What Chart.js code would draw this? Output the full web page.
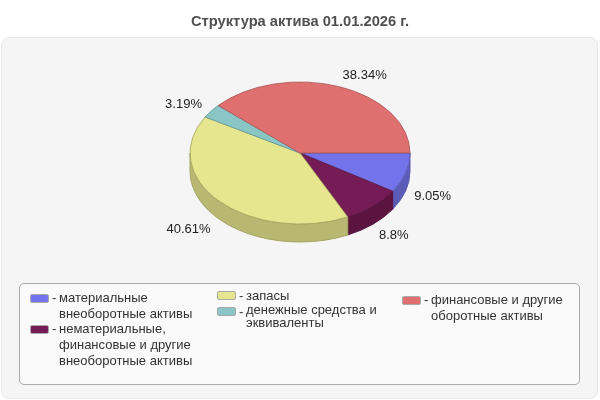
<!DOCTYPE html>
<html>
<head>
<meta charset="utf-8">
<script src="https://cdn.jsdelivr.net/npm/chart.js@4"></script>
<style>
html, body { margin: 0; padding: 0; background: #fff; }
#wrap { position: relative; width: 600px; height: 400px; overflow: hidden; font-family: "Liberation Sans", Arial, sans-serif; }
#panel { position: absolute; left: 1px; top: 37px; width: 595px; height: 360px; background: #f5f5f5; border: 1px solid #e8e8e8; border-radius: 8px; }
#legendBox { position: absolute; left: 19px; top: 283px; width: 559px; height: 100px; background: #fafafa; border: 1px solid #aaa; border-radius: 5px; }
canvas { position: absolute; left: 0; top: 0; }
.item { position: absolute; font-size: 13px; color: #333; white-space: nowrap; }
.swatch { position: absolute; left: 0; width: 17px; height: 7px; border: 1px solid #aaa; border-radius: 2px; }
.dash { position: absolute; left: 22px; }
.lines { position: absolute; left: 29px; top: 0; }
#item0 { left: 30px; top: 290px; } #item1 { left: 30px; top: 321px; }
#item2 { left: 217px; top: 288px; } #item3 { left: 217px; top: 304px; }
#item4 { left: 402px; top: 292px; }
.item .line { display: block; height: 16px; line-height: 16px; }
#item3 .line { height: 12.5px; line-height: 12.5px; }
#item0 .swatch, #item1 .swatch, #item4 .swatch { top: 4px; }
#item2 .swatch, #item3 .swatch { top: 3px; }
</style>
</head>
<body>
<div id="wrap">
  <div id="panel"></div>
  <div id="legendBox"></div>
  <canvas id="pie" width="600" height="400"></canvas>
  <div id="legend"></div>
</div>
<script>
const categories = [
  ['материальные', 'внеоборотные активы'],
  ['нематериальные,', 'финансовые и другие', 'внеоборотные активы'],
  ['запасы'],
  ['денежные средства и', 'эквиваленты'],
  ['финансовые и другие', 'оборотные активы']
];
const values = [9.05, 8.8, 40.61, 3.19, 38.34];
const colors = ['#7373ec', '#751b55', '#e6e68f', '#8ac6c6', '#e07070'];
const edgeColors = ['#5c5cb0', '#5c1543', '#a3a35f', '#5f9a9a', '#a85656'];
const sideColors = ['#5b5cb8', '#5b1440', '#b8b872', '#6e9e9e', '#b35a5a'];

const centerY = 153;
const squash = 71 / 110;
const depth = 18;

// the chart is drawn as a tilted disc, so squash the arcs and add a rim below them
const tiltPlugin = {
  id: 'tilt',
  beforeDatasetsDraw(chart) {
    const ctx = chart.ctx;
    const arcs = chart.getDatasetMeta(0).data;
    arcs.forEach((arc, i) => {
      const from = Math.max(arc.startAngle, 0);
      const to = Math.min(arc.endAngle, Math.PI);
      if (to <= from) return;
      const rx = arc.outerRadius, ry = rx * squash;
      ctx.beginPath();
      ctx.ellipse(arc.x, centerY, rx, ry, 0, from, to);
      ctx.ellipse(arc.x, centerY + depth, rx, ry, 0, to, from, true);
      ctx.closePath();
      ctx.fillStyle = sideColors[i];
      ctx.fill();
      ctx.strokeStyle = edgeColors[i];
      ctx.lineWidth = 1;
      ctx.stroke();
    });
    const y = arcs[0].y;
    ctx.save();
    ctx.translate(0, centerY);
    ctx.scale(1, squash);
    ctx.translate(0, -y);
  },
  afterDatasetsDraw(chart) {
    chart.ctx.restore();
  },
  afterDraw(chart) {
    const ctx = chart.ctx;
    ctx.save();
    ctx.font = '13px "Liberation Sans", Arial, sans-serif';
    ctx.fillStyle = '#222';
    ctx.textBaseline = 'middle';
    chart.getDatasetMeta(0).data.forEach((arc, i) => {
      const mid = (arc.startAngle + arc.endAngle) / 2;
      const c = Math.cos(mid), s = Math.sin(mid);
      ctx.textAlign = c >= 0 ? 'left' : 'right';
      const x = arc.x + c * (c >= 0 ? 119 : 121.5);
      const y = centerY + s * (s > 0 ? 84 : 83) + (s > 0 ? depth + 2 : 0);
      ctx.fillText(values[i] + '%', x, y);
    });
    ctx.restore();
  }
};

new Chart(document.getElementById('pie').getContext('2d'), {
  type: 'pie',
  data: {
    labels: categories.map(c => c.join(' ')),
    datasets: [{
      data: values,
      backgroundColor: colors,
      borderColor: edgeColors,
      borderWidth: 1
    }]
  },
  options: {
    responsive: false,
    animation: false,
    rotation: 90,
    radius: 110,
    layout: { padding: { bottom: 100 } },
    plugins: {
      legend: { display: false },
      tooltip: { enabled: false },
      title: {
        display: true,
        text: 'Структура актива 01.01.2026 г.',
        color: '#505050',
        font: { family: '"Liberation Sans", Arial, sans-serif', size: 14.7, weight: 'bold' },
        padding: { top: 13, bottom: 10 }
      }
    }
  },
  plugins: [tiltPlugin]
});

// legend has wrapped labels in three columns, so it is plain html
const legend = document.getElementById('legend');
categories.forEach((lines, i) => {
  const item = document.createElement('div');
  item.className = 'item';
  item.id = 'item' + i;
  const swatch = document.createElement('span');
  swatch.className = 'swatch';
  swatch.style.background = colors[i];
  const dash = document.createElement('span');
  dash.className = 'dash';
  dash.textContent = '-';
  const text = document.createElement('div');
  text.className = 'lines';
  lines.forEach(l => {
    const line = document.createElement('span');
    line.className = 'line';
    line.textContent = l;
    text.appendChild(line);
  });
  item.append(swatch, dash, text);
  legend.appendChild(item);
});
</script>
</body>
</html>
